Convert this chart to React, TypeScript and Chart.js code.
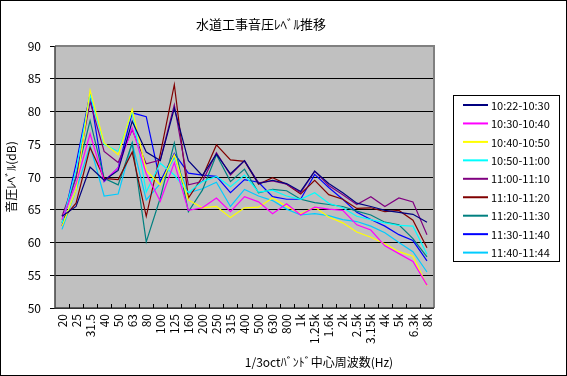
import React, { useEffect, useRef } from "react";
import { Chart, registerables } from "chart.js";

Chart.register(...registerables);

const chartTitle = "水道工事音圧ﾚﾍﾞﾙ推移";
const xTitle = "1/3octﾊﾞﾝﾄﾞ中心周波数(Hz)";
const yTitle = "音圧ﾚﾍﾞﾙ(dB)";

const categories = ["20", "25", "31.5", "40", "50", "63", "80", "100", "125", "160", "200", "250", "315", "400", "500", "630", "800", "1k", "1.25k", "1.6k", "2k", "2.5k", "3.15k", "4k", "5k", "6.3k", "8k"];

const seriesLabels = ["10:22-10:30", "10:30-10:40", "10:40-10:50", "10:50-11:00", "11:00-11:10", "11:10-11:20", "11:20-11:30", "11:30-11:40", "11:40-11:44"];
const seriesColors = ["#000080", "#FF00FF", "#FFFF00", "#00FFFF", "#800080", "#800000", "#008080", "#0000FF", "#00CCFF"];

const s1022 = [64, 65.5, 71.5, 69.5, 71, 78.5, 73.8, 72.5, 80.5, 72.5, 70.2, 73.5, 70.5, 72.5, 69, 69.5, 69, 67.8, 70.9, 69, 67.6, 66, 65.5, 64.9, 64.6, 64.3, 63.1];
const s1030 = [63.5, 69, 76.6, 69.4, 71.4, 77.5, 70.5, 66.3, 72.2, 64.9, 65.3, 66.8, 64.7, 67, 66.2, 64.4, 65.9, 64.2, 65.4, 65.1, 64.9, 62.7, 61.9, 59.5, 58.3, 57.1, 53.5];
const s1040 = [62.5, 68, 83.2, 75.2, 73.4, 80.3, 71, 68.8, 73.4, 66.5, 65.3, 65.5, 63.8, 65.3, 65.4, 66.8, 65.5, 64.4, 65.4, 63.9, 63, 61.6, 60.8, 59.8, 58.6, 57.9, 53.4];
const s1050 = [63, 71, 82.5, 75, 73.9, 80, 67.7, 72.1, 70.3, 67.6, 69.3, 70.1, 68.5, 70.3, 67.7, 68, 67.1, 66.6, 67.6, 66, 65.3, 64, 63.5, 63, 62.6, 62.5, 58.2];
const s1100 = [64, 70, 81.5, 73.9, 72.2, 77.2, 72, 72.6, 81, 68.8, 69.3, 73.7, 70.3, 72.5, 69.1, 69.4, 68.9, 67.6, 70.9, 68.7, 67.3, 65.8, 67, 65.5, 66.8, 66.2, 61.2];
const s1110 = [63.5, 66, 74.5, 69.8, 69.6, 73.8, 64, 73.5, 84.1, 66.8, 70, 74.9, 72.6, 72.4, 68.9, 69.9, 68.9, 67.4, 69.5, 67.3, 66.6, 65.2, 65.3, 64.7, 64.9, 63.4, 59.2];
const s1120 = [63, 70, 78.6, 69.8, 68.8, 75.2, 60.1, 66.8, 75.2, 64.7, 68, 73.4, 69.3, 71.2, 67.6, 68.1, 67.9, 66.6, 66.1, 65.8, 65.5, 64.8, 64.2, 63.1, 62.7, 60.6, 57.8];
const s1130 = [62.5, 72, 82.7, 69.3, 71.4, 79.8, 79.2, 69.3, 73.6, 70.6, 70.3, 70.1, 67.6, 69.6, 69.2, 67, 66.6, 66.6, 70.4, 68.4, 66.6, 64.6, 63.5, 62.5, 61.2, 60.3, 57.2];
const s1140 = [62, 68, 74.8, 67.1, 67.4, 75.2, 66.5, 69, 73, 67.6, 68.2, 69.2, 65.5, 68.1, 67.1, 66.4, 65.1, 64.2, 64.4, 64.1, 63.5, 63.2, 62.5, 61.5, 60, 58.6, 55.5];

const seriesValues = [s1022, s1030, s1040, s1050, s1100, s1110, s1120, s1130, s1140];

const yMin = 50;
const yMax = 90;
const yStep = 5;

const FONT = "'Noto Sans CJK JP', 'DejaVu Sans', sans-serif";

const decorPlugin = {
  id: "decor",
  beforeDraw(chart: any) {
    const { ctx, chartArea: a, width, height } = chart;
    ctx.save();
    ctx.fillStyle = "#ffffff";
    ctx.fillRect(0, 0, width, height);
    ctx.fillStyle = "#c0c0c0";
    ctx.fillRect(a.left, a.top, a.right - a.left, a.bottom - a.top);
    ctx.restore();
  },
  beforeDatasetsDraw(chart: any) {
    const { ctx, chartArea: a } = chart;
    ctx.save();
    ctx.strokeStyle = "#808080";
    ctx.lineWidth = 2;
    ctx.beginPath();
    ctx.moveTo(a.left, a.top);
    ctx.lineTo(a.right, a.top);
    ctx.lineTo(a.right, a.bottom);
    ctx.stroke();
    ctx.strokeStyle = "#404040";
    ctx.lineWidth = 1.5;
    ctx.beginPath();
    ctx.moveTo(a.left, a.top);
    ctx.lineTo(a.left, a.bottom);
    ctx.lineTo(a.right, a.bottom);
    ctx.stroke();
    const n = chart.data.labels.length;
    const w = (a.right - a.left) / n;
    ctx.strokeStyle = "#000000";
    ctx.lineWidth = 1;
    ctx.beginPath();
    for (let i = 1; i < n; i++) {
      const x = Math.round(a.left + i * w) + 0.5;
      ctx.moveTo(x, a.bottom - 4);
      ctx.lineTo(x, a.bottom);
    }
    ctx.stroke();
    ctx.restore();
  },
  afterDraw(chart: any) {
    const { ctx, width, height } = chart;
    ctx.save();
    ctx.fillStyle = "#000";
    ctx.textAlign = "center";
    ctx.textBaseline = "middle";
    ctx.font = `13px ${FONT}`;
    ctx.fillText(chartTitle, 261, 24);
    ctx.font = `12px ${FONT}`;
    ctx.fillText(xTitle, 319, 362);
    const lx = 453.5, ly = 95.5, lw = 106, lh = 166;
    ctx.strokeStyle = "#000";
    ctx.lineWidth = 1;
    ctx.strokeRect(lx, ly, lw, lh);
    ctx.textAlign = "left";
    ctx.font = `11px ${FONT}`;
    chart.data.datasets.forEach((ds: any, i: number) => {
      const y = 105 + i * 18.45;
      ctx.strokeStyle = ds.borderColor;
      ctx.lineWidth = 2;
      ctx.beginPath();
      ctx.moveTo(463, y);
      ctx.lineTo(488, y);
      ctx.stroke();
      ctx.fillStyle = "#000";
      ctx.fillText(ds.label, 491, y + 0.5);
    });
    ctx.strokeStyle = "#000";
    ctx.lineWidth = 1;
    ctx.strokeRect(0.5, 0.5, width - 1, height - 1);
    ctx.restore();
  },
};

export default function App() {
  const ref = useRef<HTMLCanvasElement | null>(null);

  useEffect(() => {
    document.body.style.margin = "0";
    const canvas = ref.current;
    if (!canvas) return;
    const yTickValues: number[] = [];
    for (let v = yMin; v <= yMax; v += yStep) yTickValues.push(v);

    const chart = new Chart(canvas, {
      type: "line",
      data: {
        labels: categories,
        datasets: seriesValues.map((vals, i) => ({
          label: seriesLabels[i],
          data: vals,
          borderColor: seriesColors[i],
          backgroundColor: seriesColors[i],
          borderWidth: 1.2,
          pointRadius: 0,
          tension: 0,
          fill: false,
        })),
      },
      options: {
        responsive: false,
        animation: false,
        devicePixelRatio: 1,
        layout: { padding: { left: 0, top: 46, right: 133, bottom: 0 } },
        plugins: {
          legend: { display: false },
          title: { display: false },
          tooltip: { enabled: false },
        },
        scales: {
          x: {
            type: "category",
            offset: true,
            grid: { display: false, drawOnChartArea: false, drawTicks: false },
            border: { display: false },
            ticks: {
              autoSkip: false,
              minRotation: 90,
              maxRotation: 90,
              padding: 6,
              color: "#000",
              font: { family: FONT, size: 12 },
            },
            afterFit(scale: any) {
              scale.height = 68;
            },
          },
          y: {
            min: yMin,
            max: yMax,
            afterBuildTicks(scale: any) {
              scale.ticks = yTickValues.map((v) => ({ value: v }));
            },
            grid: {
              color: "#000",
              lineWidth: 1,
              drawTicks: true,
              tickLength: 5,
              tickColor: "#000",
            },
            border: { display: false },
            ticks: {
              padding: 9,
              color: "#000",
              font: { family: FONT, size: 12 },
            },
            title: {
              display: true,
              text: yTitle,
              color: "#000",
              font: { family: FONT, size: 12 },
              padding: { top: 4, bottom: 0 },
            },
            afterFit(scale: any) {
              scale.width = 55;
            },
          },
        },
      },
      plugins: [decorPlugin],
    });
    return () => chart.destroy();
  }, []);

  return (
    <div style={{ width: 567, height: 376 }}>
      <canvas ref={ref} width={567} height={376} style={{ display: "block" }} />
    </div>
  );
}
